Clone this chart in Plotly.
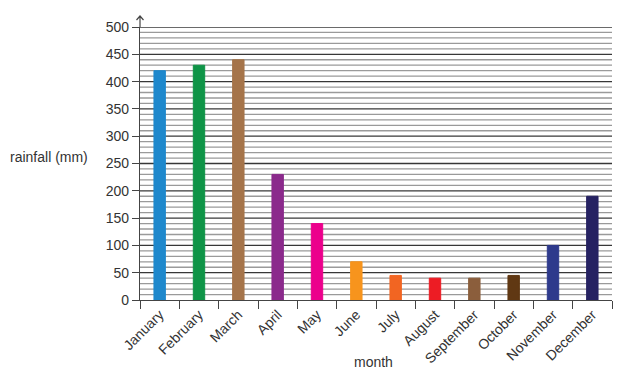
import plotly.graph_objects as go

months = ["January", "February", "March", "April", "May", "June", "July",
          "August", "September", "October", "November", "December"]
rainfall = [420, 430, 440, 230, 140, 70, 45, 40, 40, 45, 100, 190]
colors = ["#1f88cc", "#0f9447", "#a5744a", "#8b2a8c", "#ec008c", "#f7941d",
          "#f26522", "#ed1c24", "#8b5e3c", "#603813", "#2e3a8c", "#262262"]
y_ticks = [0, 50, 100, 150, 200, 250, 300, 350, 400, 450, 500]
y_minor_step = 10

fig = go.Figure(go.Bar(
    x=months, y=rainfall,
    marker=dict(color=colors, opacity=1, line=dict(width=1, color=colors)),
    opacity=1,
    width=0.29,
))

W, H = 616, 372
L, R, T, B = 132, 12, 19, 80
PW, PH = W - L - R, H - T - B

font = "Liberation Sans, Arial, sans-serif"
fig.update_layout(
    width=W, height=H,
    margin=dict(l=L, r=R, t=T, b=B, autoexpand=False),
    paper_bgcolor="white", plot_bgcolor="white",
    showlegend=False,
    font=dict(family=font, size=14, color="#333"),
)

# grid lines drawn beneath the bars
for v in range(y_ticks[0] + y_minor_step, y_ticks[-1] + 1, y_minor_step):
    major = v in y_ticks
    fig.add_shape(type="line", xref="paper", x0=0, x1=1, yref="y", y0=v, y1=v,
                  layer="below",
                  line=dict(color="#383838" if major else "#9a9a9a", width=1.3))

fig.update_yaxes(
    range=[0, 500], tickvals=y_ticks, ticktext=[str(v) for v in y_ticks],
    showgrid=False,
    ticks="outside", ticklen=7, tickcolor="#444", tickwidth=1.2,
    showline=True, linecolor="#444", linewidth=1.2, automargin=False,
    zeroline=False, tickfont=dict(size=14, color="#333"),
)
fig.update_xaxes(
    tickangle=-45, ticks="outside", tickson="boundaries", ticklen=8,
    tickcolor="#444", tickwidth=1.2, showline=True, linecolor="#444",
    linewidth=1.2, showgrid=False, automargin=False,
    tickfont=dict(size=14, color="#333"),
)
fig.add_shape(type="path", xref="paper", yref="paper",
              xsizemode="pixel", ysizemode="pixel", xanchor=0, yanchor=1,
              path="M0,0 L0,11 M-3.5,7 L0,11 L3.5,7",
              line=dict(color="#444", width=1.2))
fig.add_annotation(text="rainfall (mm)", x=(0 - L) / PW, xref="paper", xanchor="left",
                   y=(292 - 149) / PH, yref="paper", showarrow=False,
                   font=dict(size=14, color="#333"))
fig.add_annotation(text="month", x=(365 - L) / PW, xref="paper",
                   y=-(364 - 292) / PH, yref="paper",
                   showarrow=False, font=dict(size=14, color="#333"))
fig.write_html("out.html")
